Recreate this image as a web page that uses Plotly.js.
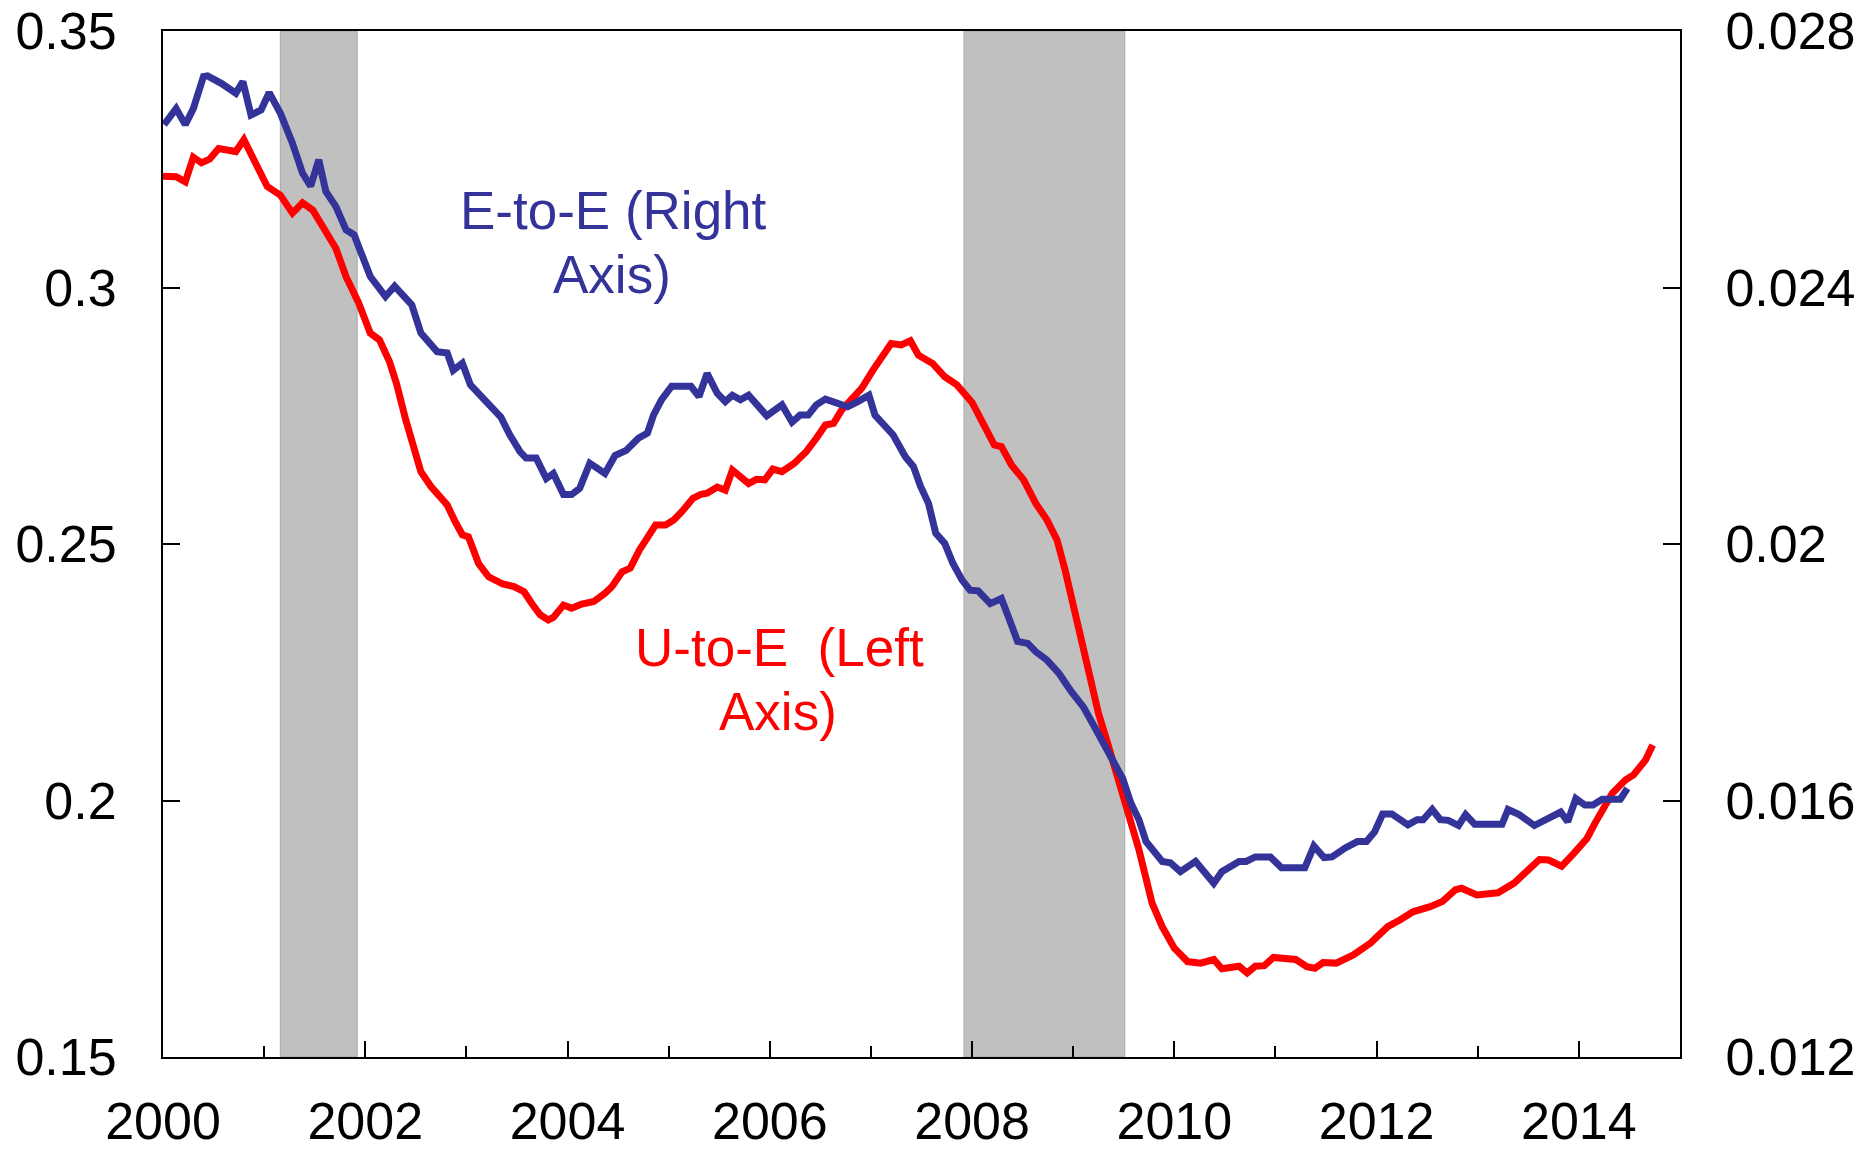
<!DOCTYPE html>
<html>
<head>
<meta charset="utf-8">
<script src="https://cdn.plot.ly/plotly-3.0.1.min.js"></script>
<style>
  html, body { margin: 0; padding: 0; background: #ffffff; }
  #chart { width: 1865px; height: 1153px; }
</style>
</head>
<body>
<div id="chart"></div>
<script>
// U-to-E transition rate (left axis)
const uteYears = [
  2000.00, 2000.13, 2000.22, 2000.30, 2000.38, 2000.46, 2000.55, 2000.72, 2000.80, 2000.91,
  2001.03, 2001.16, 2001.28, 2001.38, 2001.48, 2001.60, 2001.71, 2001.81, 2001.93,
  2002.05, 2002.14, 2002.24, 2002.31, 2002.40, 2002.48, 2002.55, 2002.65, 2002.81, 2002.89, 2002.96,
  2003.02, 2003.12, 2003.22, 2003.36, 2003.47, 2003.57, 2003.65, 2003.73, 2003.81, 2003.86, 2003.96,
  2004.04, 2004.14, 2004.26, 2004.37, 2004.44, 2004.54, 2004.62, 2004.71, 2004.87, 2004.97,
  2005.05, 2005.13, 2005.24, 2005.32, 2005.38, 2005.48, 2005.56, 2005.63, 2005.71, 2005.79, 2005.87, 2005.95,
  2006.03, 2006.12, 2006.24, 2006.36, 2006.46, 2006.55, 2006.63, 2006.71, 2006.83, 2006.91,
  2007.02, 2007.20, 2007.30, 2007.39, 2007.47, 2007.61, 2007.73, 2007.85,
  2008.00, 2008.12, 2008.22, 2008.29, 2008.39, 2008.51, 2008.63, 2008.74, 2008.84, 2008.92,
  2009.00, 2009.10, 2009.17, 2009.25, 2009.35, 2009.41, 2009.53, 2009.65, 2009.78, 2009.88,
  2010.00, 2010.13, 2010.26, 2010.39, 2010.47, 2010.64, 2010.72, 2010.80, 2010.89, 2010.98,
  2011.20, 2011.31, 2011.39, 2011.47, 2011.60, 2011.77, 2011.94,
  2012.11, 2012.23, 2012.36, 2012.53, 2012.65, 2012.78, 2012.84, 2012.99,
  2013.20, 2013.36, 2013.49, 2013.61, 2013.70, 2013.83, 2013.95,
  2014.08, 2014.16, 2014.25, 2014.33, 2014.46, 2014.54, 2014.66, 2014.73
];
const uteValues = [
  0.3217, 0.3216, 0.3206, 0.3254, 0.3243, 0.3250, 0.3271, 0.3265, 0.3288, 0.3242,
  0.3197, 0.3180, 0.3145, 0.3165, 0.3151, 0.3112, 0.3076, 0.3021, 0.2972,
  0.2911, 0.2898, 0.2855, 0.2812, 0.2742, 0.2683, 0.2641, 0.2612, 0.2576, 0.2543, 0.2518,
  0.2514, 0.2462, 0.2436, 0.2422, 0.2417, 0.2407, 0.2383, 0.2362, 0.2352, 0.2357, 0.2381,
  0.2375, 0.2383, 0.2388, 0.2404, 0.2417, 0.2446, 0.2453, 0.2488, 0.2537, 0.2537,
  0.2547, 0.2563, 0.2589, 0.2597, 0.2599, 0.2611, 0.2605, 0.2644, 0.2631, 0.2618, 0.2626, 0.2625,
  0.2646, 0.2641, 0.2657, 0.2680, 0.2706, 0.2732, 0.2735, 0.2761, 0.2787, 0.2804,
  0.2839, 0.2891, 0.2888, 0.2896, 0.2868, 0.2852, 0.2826, 0.2810,
  0.2776, 0.2729, 0.2693, 0.2690, 0.2654, 0.2625, 0.2579, 0.2547, 0.2508, 0.2449,
  0.2384, 0.2306, 0.2235, 0.2170, 0.2105, 0.2065, 0.1988, 0.1904, 0.1800, 0.1754,
  0.1712, 0.1686, 0.1683, 0.1690, 0.1672, 0.1677, 0.1664, 0.1677, 0.1678, 0.1694,
  0.1690, 0.1676, 0.1673, 0.1684, 0.1683, 0.1699, 0.1722,
  0.1754, 0.1767, 0.1783, 0.1793, 0.1803, 0.1826, 0.1829, 0.1816,
  0.1820, 0.1839, 0.1865, 0.1885, 0.1884, 0.1872, 0.1897,
  0.1926, 0.1956, 0.1988, 0.2014, 0.2040, 0.2050, 0.2079, 0.2108
];

// E-to-E transition rate (right axis)
const eteYears = [
  2000.01, 2000.13, 2000.22, 2000.30, 2000.40, 2000.44, 2000.58, 2000.72, 2000.79, 2000.87, 2000.97,
  2001.05, 2001.16, 2001.28, 2001.38, 2001.46, 2001.54, 2001.61, 2001.71, 2001.81, 2001.89,
  2002.05, 2002.20, 2002.29, 2002.46, 2002.55, 2002.71, 2002.81, 2002.87, 2002.96,
  2003.04, 2003.24, 2003.34, 2003.43, 2003.53, 2003.59, 2003.69, 2003.79, 2003.86, 2003.96,
  2004.04, 2004.12, 2004.22, 2004.37, 2004.47, 2004.58, 2004.70, 2004.79, 2004.85, 2004.93,
  2005.03, 2005.22, 2005.30, 2005.38, 2005.48, 2005.56, 2005.63, 2005.71, 2005.79, 2005.97,
  2006.12, 2006.22, 2006.30, 2006.38, 2006.46, 2006.55, 2006.67, 2006.77, 2006.87, 2006.98,
  2007.04, 2007.22, 2007.34, 2007.42, 2007.49, 2007.57, 2007.64, 2007.73, 2007.81, 2007.90, 2007.98,
  2008.06, 2008.18, 2008.29, 2008.37, 2008.45, 2008.55, 2008.63, 2008.74, 2008.86, 2008.98,
  2009.10, 2009.21, 2009.31, 2009.41, 2009.49, 2009.57, 2009.65, 2009.72, 2009.88, 2009.96,
  2010.06, 2010.21, 2010.39, 2010.47, 2010.64, 2010.71, 2010.80, 2010.95,
  2011.06, 2011.29, 2011.38, 2011.48, 2011.56, 2011.69, 2011.81, 2011.90, 2011.98,
  2012.06, 2012.15, 2012.31, 2012.40, 2012.46, 2012.55, 2012.63, 2012.71, 2012.81, 2012.88, 2012.97,
  2013.24, 2013.30, 2013.41, 2013.56, 2013.66, 2013.82, 2013.89, 2013.97,
  2014.06, 2014.14, 2014.23, 2014.41, 2014.48
];
const eteValues = [
  0.02654, 0.02679, 0.02654, 0.02679, 0.02729, 0.02730, 0.02718, 0.02703, 0.02721, 0.02669, 0.02677,
  0.02704, 0.02672, 0.02625, 0.02578, 0.02558, 0.02599, 0.02550, 0.02526, 0.02490, 0.02482,
  0.02417, 0.02386, 0.02402, 0.02373, 0.02329, 0.02300, 0.02298, 0.02271, 0.02282,
  0.02248, 0.02214, 0.02198, 0.02170, 0.02144, 0.02134, 0.02134, 0.02102, 0.02110, 0.02077,
  0.02077, 0.02087, 0.02126, 0.02110, 0.02138, 0.02146, 0.02165, 0.02173, 0.02201, 0.02225,
  0.02246, 0.02246, 0.02230, 0.02266, 0.02235, 0.02222, 0.02232, 0.02225, 0.02232, 0.02200,
  0.02217, 0.02190, 0.02201, 0.02201, 0.02217, 0.02226, 0.02219, 0.02214, 0.02222, 0.02232,
  0.02201, 0.02170, 0.02136, 0.02121, 0.02090, 0.02063, 0.02017, 0.02001, 0.01970, 0.01944, 0.01928,
  0.01927, 0.01907, 0.01915, 0.01882, 0.01848, 0.01845, 0.01832, 0.01819, 0.01798, 0.01770,
  0.01746, 0.01715, 0.01684, 0.01658, 0.01634, 0.01596, 0.01570, 0.01536, 0.01505, 0.01503,
  0.01489, 0.01505, 0.01471, 0.01489, 0.01505, 0.01505, 0.01512, 0.01512,
  0.01495, 0.01495, 0.01529, 0.01511, 0.01512, 0.01526, 0.01536, 0.01536, 0.01551,
  0.01579, 0.01579, 0.01562, 0.01570, 0.01570, 0.01586, 0.01570, 0.01569, 0.01561, 0.01578, 0.01563,
  0.01563, 0.01586, 0.01578, 0.01561, 0.01570, 0.01582, 0.01567, 0.01603,
  0.01593, 0.01593, 0.01602, 0.01602, 0.01619
];

// Recession periods (shaded)
const recessionStarts = [2001.16, 2007.92];
const recessionEnds   = [2001.92, 2009.51];

// Tick labels
const xTickVals   = [2000, 2002, 2004, 2006, 2008, 2010, 2012, 2014];
const xTickText   = ['2000', '2002', '2004', '2006', '2008', '2010', '2012', '2014'];
const leftTickVals  = [0.15, 0.2, 0.25, 0.3, 0.35];
const leftTickText  = ['0.15', '0.2', '0.25', '0.3', '0.35'];
const rightTickVals = [0.012, 0.016, 0.02, 0.024, 0.028];
const rightTickText = ['0.012', '0.016', '0.02', '0.024', '0.028'];

// Series labels
const eteLabelLines = ['E-to-E (Right', 'Axis)'];
const uteLabelLines = ['U-to-E\u00A0 (Left', 'Axis)'];

const FONT = 'Liberation Sans, Arial, Helvetica, sans-serif';
const RED = '#FF0000';
const BLUE = '#333399';

const traces = [
  {
    x: uteYears, y: uteValues, type: 'scatter', mode: 'lines', yaxis: 'y',
    name: 'U-to-E', line: { color: RED, width: 7, shape: 'linear' },
    hoverinfo: 'skip'
  },
  {
    x: eteYears, y: eteValues, type: 'scatter', mode: 'lines', yaxis: 'y2',
    name: 'E-to-E', line: { color: BLUE, width: 7, shape: 'linear' },
    hoverinfo: 'skip'
  }
];

const shapes = recessionStarts.map((s, i) => ({
  type: 'rect', xref: 'x', yref: 'paper',
  x0: s, x1: recessionEnds[i], y0: 0, y1: 1,
  fillcolor: '#C0C0C0', line: { color: '#A8A8A8', width: 1 }, layer: 'below'
}));

const annotations = [
  { text: eteLabelLines[0], x: 0.2970, y: 0.8246, color: BLUE },
  { text: eteLabelLines[1], x: 0.2960, y: 0.7622, color: BLUE },
  { text: uteLabelLines[0], x: 0.4067, y: 0.3996, color: RED },
  { text: uteLabelLines[1], x: 0.4054, y: 0.3372, color: RED }
].map(a => ({
  text: a.text, xref: 'paper', yref: 'paper', x: a.x, y: a.y,
  xanchor: 'center', yanchor: 'middle', showarrow: false,
  font: { family: FONT, size: 53, color: a.color }
}));

const tickFont = { family: FONT, size: 52, color: '#000000' };

const layout = {
  width: 1865, height: 1153,
  margin: { l: 163, r: 185, t: 31, b: 96, pad: 0 },
  paper_bgcolor: '#ffffff', plot_bgcolor: '#ffffff',
  showlegend: false,
  font: { family: FONT, color: '#000000' },
  xaxis: {
    range: [2000, 2015], tickmode: 'array', tickvals: xTickVals, ticktext: xTickText,
    ticks: 'inside', ticklen: 16, tickwidth: 2, tickcolor: '#000000',
    minor: { dtick: 1, tick0: 2000, ticks: 'inside', ticklen: 11, tickwidth: 2, tickcolor: '#000000', showgrid: false },
    showline: true, linecolor: '#000000', linewidth: 2, mirror: true,
    showgrid: false, zeroline: false, tickfont: tickFont, ticklabelstandoff: 18
  },
  yaxis: {
    range: [0.15, 0.35], tickmode: 'array', tickvals: leftTickVals, ticktext: leftTickText,
    ticks: 'inside', ticklen: 17, tickwidth: 2, tickcolor: '#000000',
    showline: true, linecolor: '#000000', linewidth: 2,
    showgrid: false, zeroline: false, tickfont: tickFont, ticklabelstandoff: 34
  },
  yaxis2: {
    range: [0.012, 0.028], tickmode: 'array', tickvals: rightTickVals, ticktext: rightTickText,
    overlaying: 'y', side: 'right',
    ticks: 'inside', ticklen: 17, tickwidth: 2, tickcolor: '#000000',
    showline: true, linecolor: '#000000', linewidth: 2,
    showgrid: false, zeroline: false, tickfont: tickFont, ticklabelstandoff: 33
  },
  shapes: shapes,
  annotations: annotations
};

Plotly.newPlot('chart', traces, layout, { displayModeBar: false, staticPlot: true });
</script>
</body>
</html>
